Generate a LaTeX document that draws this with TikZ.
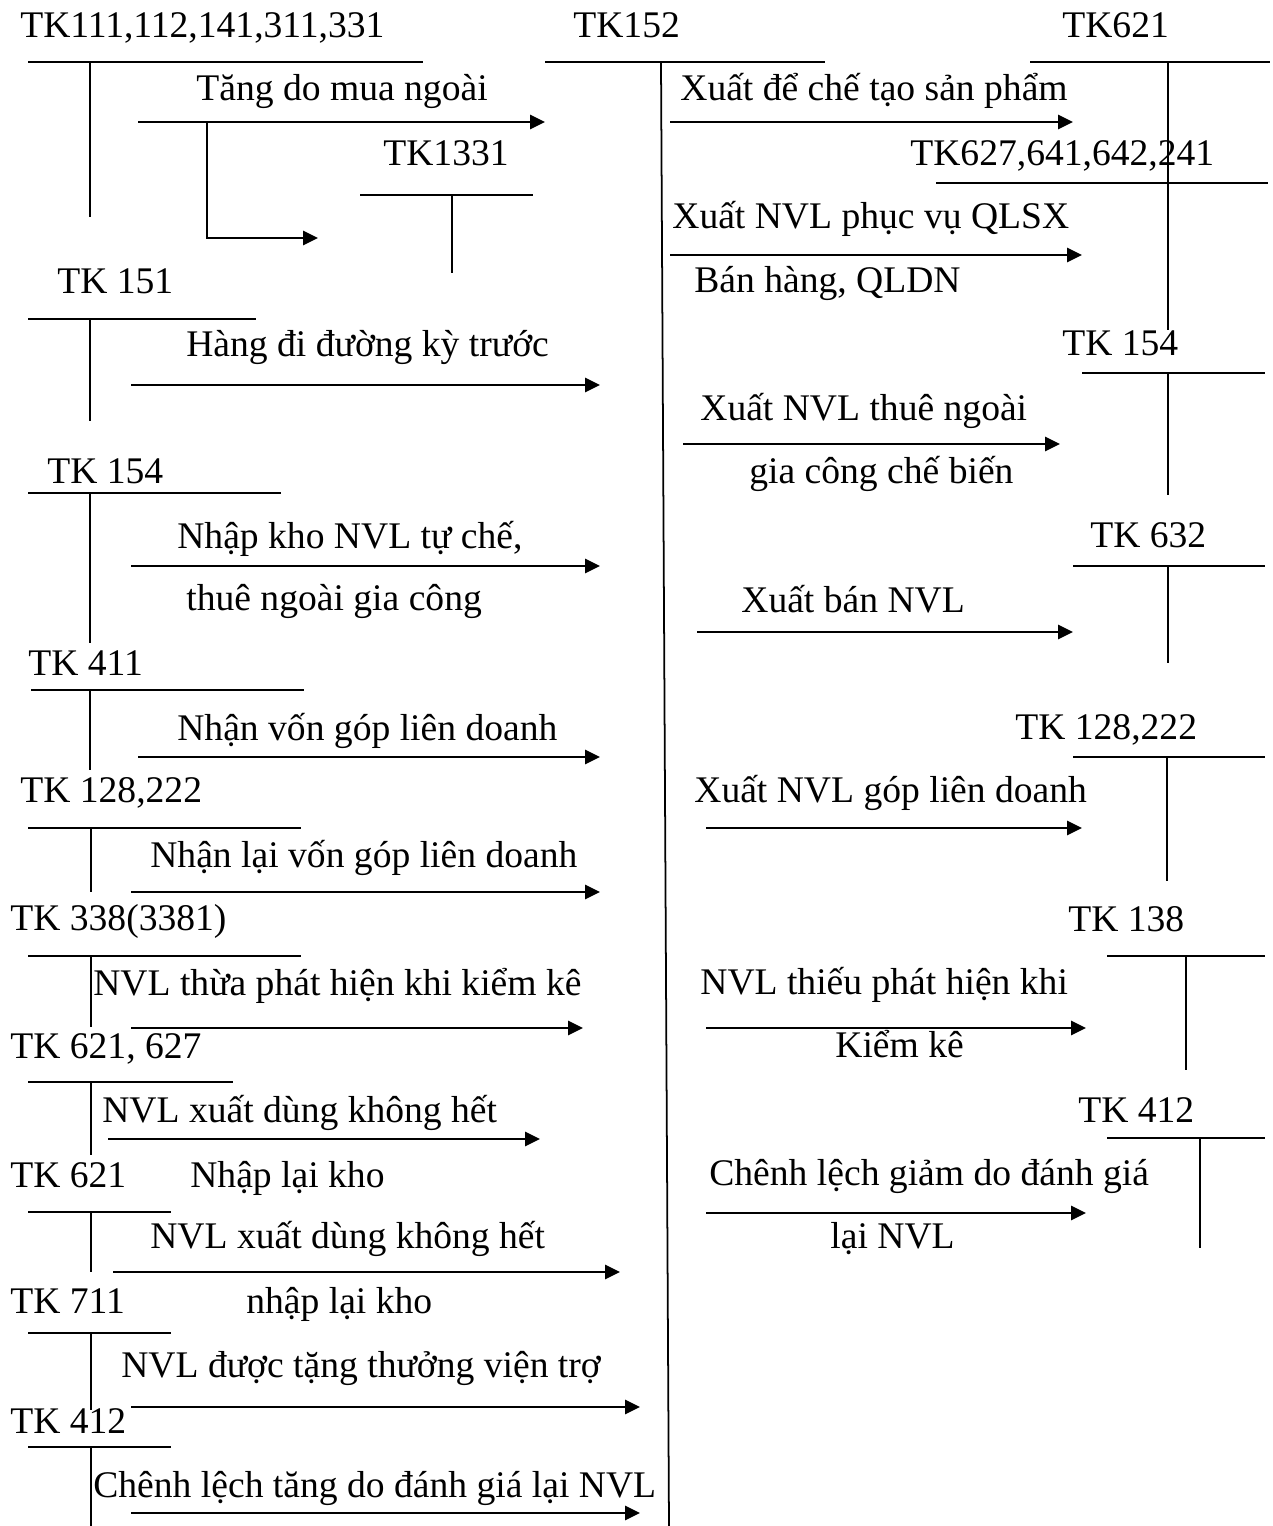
\documentclass[tikz,border=0pt]{standalone}
\usepackage{fontspec}
\setmainfont{Liberation Serif}
\usetikzlibrary{arrows.meta}
\tikzset{
  every picture/.style={x=0.02cm, y=-0.02cm, font=\fontsize{21.4}{25}\selectfont},
  lbl/.style={anchor=base west, inner sep=0pt},
  tline/.style={line width=1pt},
  arrow/.style={-{Triangle[length=0.3cm, width=0.28cm]}, line width=1.6pt},
}
\begin{document}
\begin{tikzpicture}
  \useasboundingbox (0,0) rectangle (1273,1526);
  % account names
  \foreach \n/\x/\y/\t in {tkA/20/37/{TK111,112,141,311,331}, tkB/383/165/TK1331,
      tkC/57/293/TK 151, tkD/47/483/TK 154, tkE/28/675/TK 411, tkF/20/802/{TK 128,222},
      tkG/10/930/TK 338(3381), tkH/10/1058/{TK 621, 627}, tkI/10/1187/TK 621,
      tkJ/10/1313/TK 711, tkK/10/1433/TK 412, tkM/573/37/TK152, tkN/1062/37/TK621,
      tkO/910/165/{TK627,641,642,241}, tkP/1062/355/TK 154, tkQ/1090/547/TK 632,
      tkR/1015/739/{TK 128,222}, tkS/1068/931/TK 138, tkT/1078/1122/TK 412} {
    \node[lbl] (\n) at (\x,\y) {\t};
  }
  % T-accounts: top rule and middle rule
  \foreach \xl/\xr/\y/\xv/\yb in {28/423/62/90/217, 360/533/195/452/273, 28/256/319/90/421,
      28/281/493/90/643, 31/304/690/90/770, 28/301/828/91/892, 28/301/956/91/1027,
      28/233/1082/91/1155, 28/171/1212/91/1272, 28/171/1333/91/1410, 28/171/1447/91/1526,
      1030/1270/62/1168/183, 936/1268/183/1168/330, 1082/1265/373/1168/495,
      1073/1265/566/1168/663, 1073/1265/757/1167/881, 1107/1265/956/1186/1070,
      1107/1265/1138/1200/1248} {
    \draw[tline] (\xl,\y) -- (\xr,\y);
    \draw[tline] (\xv,\y) -- (\xv,\yb);
  }
  % TK152, its rule leans a little
  \draw[tline] (545,62) -- (825,62);
  \draw[tline] (661,62) -- (669,1526);
  % entries
  \foreach \i/\xa/\xb/\y in {1/138/545/122, 2/131/600/385, 3/131/600/566, 4/138/600/757,
      5/131/600/892, 6/131/583/1028, 7/108/540/1139, 8/113/620/1272, 9/131/640/1407,
      10/131/640/1513, 11/670/1073/122, 12/670/1082/255, 13/683/1060/444,
      14/697/1073/632, 15/706/1082/828, 16/706/1086/1028, 17/706/1086/1213} {
    \coordinate (s\i) at (\xa,\y);
    \coordinate (e\i) at (\xb,\y);
    \draw[arrow] (s\i) -- (e\i);
  }
  % VAT branch into TK1331
  \coordinate (vat) at (207,122);
  \coordinate (vatEnd) at (318,238);
  \draw[arrow] (vat) |- (vatEnd);
  % entry texts
  \foreach \n/\x/\y/\t in {txA/196/100/Tăng do mua ngoài, txB/186/356/Hàng đi đường kỳ trước,
      txC/177/548/{Nhập kho NVL tự chế,}, txD/186/610/thuê ngoài gia công,
      txE/177/740/Nhận vốn góp liên doanh, txF/150/867/Nhận lại vốn góp liên doanh,
      txG/93/995/NVL thừa phát hiện khi kiểm kê, txH/102/1122/NVL xuất dùng không hết,
      txI/190/1187/Nhập lại kho, txJ/150/1248/NVL xuất dùng không hết,
      txK/246/1313/nhập lại kho, txL/121/1377/NVL được tặng thưởng viện trợ,
      txM/93/1497/Chênh lệch tăng do đánh giá lại NVL,
      txN/680/100/Xuất để chế tạo sản phẩm, txO/672/228/Xuất NVL phục vụ QLSX,
      txP/694/292/{Bán hàng, QLDN}, txQ/700/420/Xuất NVL thuê ngoài,
      txR/749/483/gia công chế biến, txS/741/612/Xuất bán NVL,
      txT/694/802/Xuất NVL góp liên doanh, txU/700/994/NVL thiếu phát hiện khi,
      txV/835/1057/Kiểm kê, txW/709/1185/Chênh lệch giảm do đánh giá,
      txX/830/1248/lại NVL} {
    \node[lbl] (\n) at (\x,\y) {\t};
  }
\end{tikzpicture}
\end{document}
